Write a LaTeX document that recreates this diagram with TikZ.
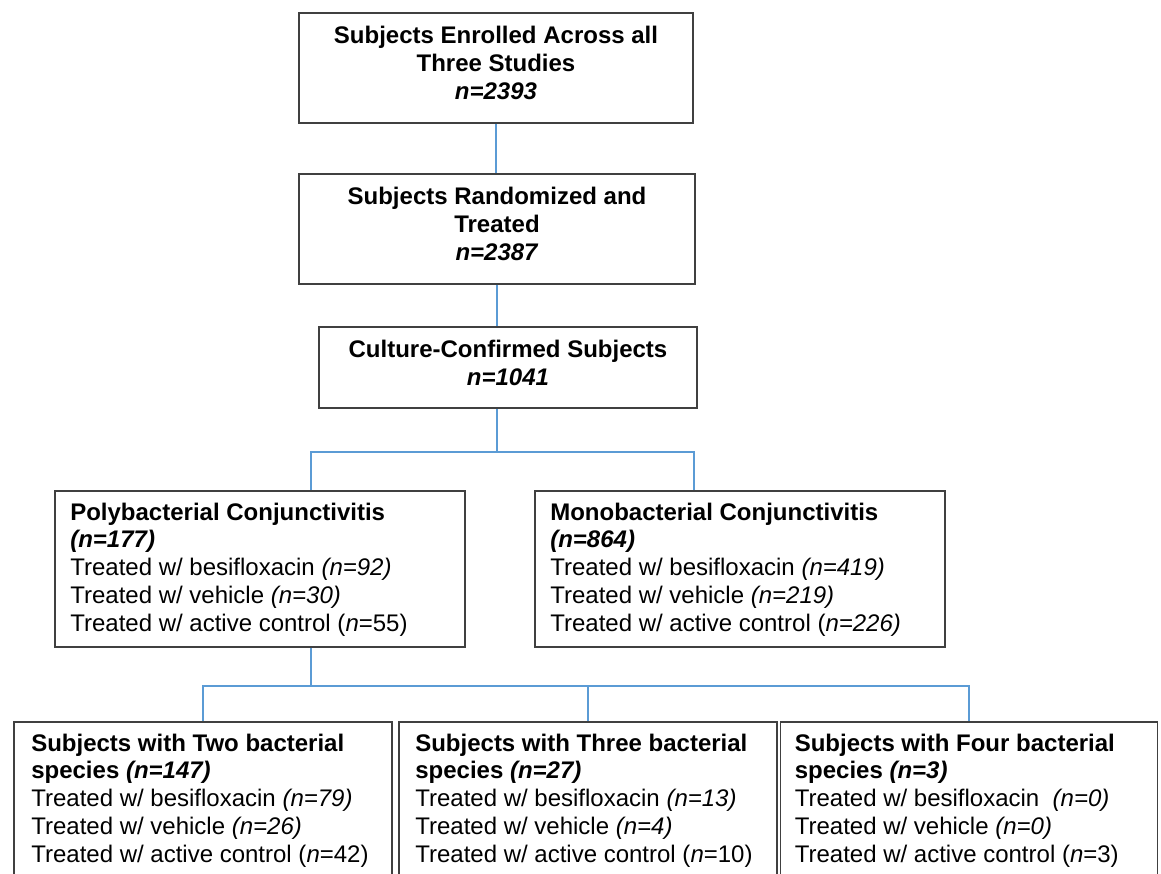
\documentclass[tikz,border=0pt]{standalone}
\usepackage{fontspec}
\setmainfont{Liberation Sans}
\usepackage{tikz}
\usepackage{xcolor}
\usetikzlibrary{positioning}
\definecolor{boxgray}{RGB}{64, 64, 64}
\definecolor{linkblue}{RGB}{91, 155, 213}

\begin{document}
\begin{tikzpicture}[x=1pt, y=-1pt,
    stage/.style={rectangle, draw=boxgray, line width=1.8pt, align=center, inner sep=0pt, text depth=10pt, font=\fontsize{24}{28}\selectfont\bfseries},
    group/.style={rectangle, draw=boxgray, line width=1.8pt, inner sep=0pt},
    grouptext/.style={align=left, inner sep=0pt, font=\fontsize{24}{27.7}\selectfont},
    link/.style={draw=linkblue, line width=1.5pt}
]
\useasboundingbox (0,0) rectangle (1161,873);
\clip (0,0) rectangle (1161,873);

\node[stage, minimum width=394pt, minimum height=110pt] (enrolled) at (496,68) {Subjects Enrolled Across all\\Three Studies\\\textit{n=2393}};

\node[stage, minimum width=396pt, minimum height=110pt] (randomized) at (497,229) {Subjects Randomized and\\Treated\\\textit{n=2387}};

\node[stage, minimum width=378pt, minimum height=81pt] (culture) at (508,367.5) {Culture-Confirmed Subjects\\\textit{n=1041}};

\node[group, minimum width=410pt, minimum height=156pt] (poly) at (260,569) {};
\node[grouptext, below right=12.5pt and 16pt of poly.north west] (polytext) {\textbf{Polybacterial Conjunctivitis}\\\textbf{\textit{(n=177)}}\\Treated w/ besifloxacin \textit{(n=92)}\\Treated w/ vehicle \textit{(n=30)}\\Treated w/ active control (\textit{n}=55)};

\node[group, minimum width=410pt, minimum height=156pt] (mono) at (740,569) {};
\node[grouptext, below right=12.5pt and 16pt of mono.north west] (monotext) {\textbf{Monobacterial Conjunctivitis}\\\textbf{\textit{(n=864)}}\\Treated w/ besifloxacin \textit{(n=419)}\\Treated w/ vehicle \textit{(n=219)}\\Treated w/ active control (\textit{n=226)}};

\node[group, minimum width=378pt, minimum height=180pt] (two) at (203,812) {};
\node[grouptext, below right=12.5pt and 18pt of two.north west] (twotext) {\textbf{Subjects with Two bacterial}\\\textbf{species \textit{(n=147)}}\\Treated w/ besifloxacin \textit{(n=79)}\\Treated w/ vehicle \textit{(n=26)}\\Treated w/ active control (\textit{n}=42)};

\node[group, minimum width=378pt, minimum height=180pt] (three) at (588,812) {};
\node[grouptext, below right=12.5pt and 17pt of three.north west] (threetext) {\textbf{Subjects with Three bacterial}\\\textbf{species \textit{(n=27)}}\\Treated w/ besifloxacin \textit{(n=13)}\\Treated w/ vehicle \textit{(n=4)}\\Treated w/ active control (\textit{n}=10)};

\node[group, minimum width=377pt, minimum height=180pt] (four) at (969,812) {};
\node[grouptext, below right=12.5pt and 15pt of four.north west] (fourtext) {\textbf{Subjects with Four bacterial}\\\textbf{species \textit{(n=3)}}\\Treated w/ besifloxacin \ \textit{(n=0)}\\Treated w/ vehicle \textit{(n=0)}\\Treated w/ active control (\textit{n}=3)};

\coordinate (fork1) at (497,452);
\coordinate (polyin) at (311,452);
\coordinate (monoin) at (694,452);
\coordinate (fork2) at (311,686);

\draw[link] (enrolled.south) -- (enrolled.south |- randomized.north);
\draw[link] (randomized.south) -- (randomized.south |- culture.north);
\draw[link] (culture.south -| fork1) -- (fork1);
\draw[link] (poly.north -| polyin) -- (polyin) -- (monoin) -- (mono.north -| monoin);
\draw[link] (poly.south -| fork2) -- (fork2);
\draw[link] (two.north) -- (two.north |- fork2) -- (four.north |- fork2) -- (four.north);
\draw[link] (three.north) -- (three.north |- fork2);

\end{tikzpicture}
\end{document}
